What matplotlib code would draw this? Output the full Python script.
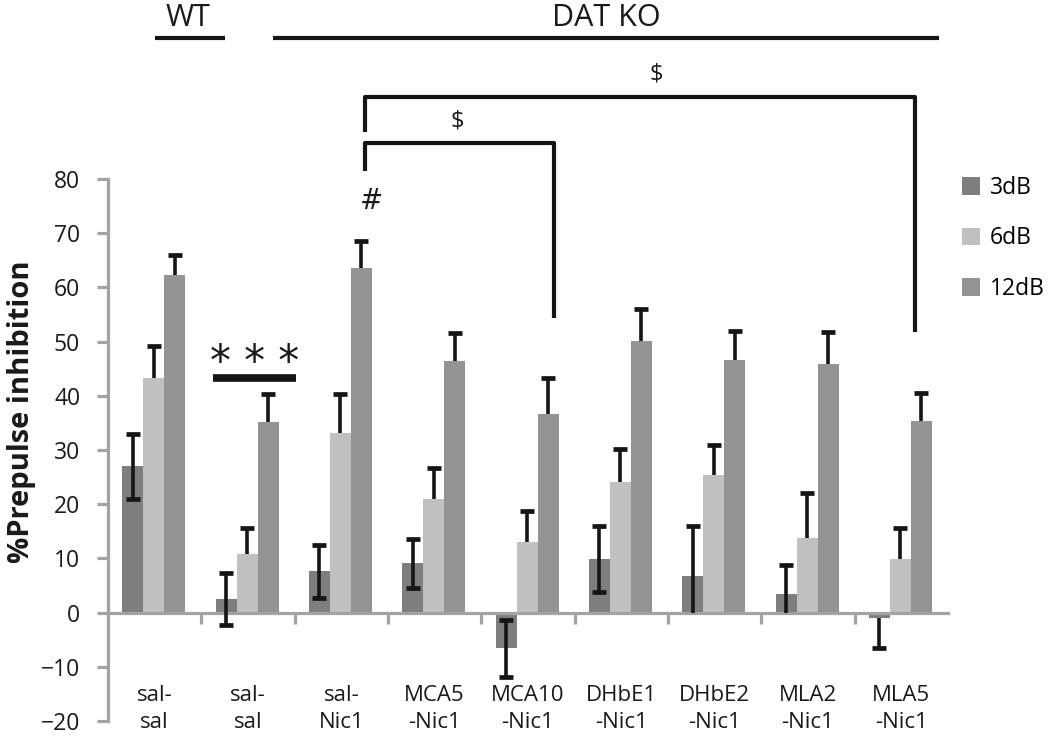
import matplotlib
matplotlib.use('Agg')
import matplotlib.pyplot as plt
import numpy as np

# ---- data ----
categories = ['sal-\nsal', 'sal-\nsal', 'sal-\nNic1', 'MCA5\n-Nic1', 'MCA10\n-Nic1',
              'DHbE1\n-Nic1', 'DHbE2\n-Nic1', 'MLA2\n-Nic1', 'MLA5\n-Nic1']
series = ['3dB', '6dB', '12dB']
v3 = [27.0, 2.5, 7.6, 9.1, -6.6, 9.9, 6.8, 3.4, -1.0]
e3_hi = [6.0, 4.8, 4.9, 4.5, 5.2, 6.1, 9.2, 5.3, 0.0]
e3_lo = [6.0, 4.8, 4.9, 4.5, 5.2, 6.1, 6.8, 3.4, 5.5]
v6 = [43.3, 10.8, 33.2, 21.0, 13.1, 24.1, 25.4, 13.8, 9.8]
e6 = [5.8, 4.8, 7.1, 5.7, 5.6, 6.1, 5.5, 8.3, 5.8]
v12 = [62.3, 35.1, 63.6, 46.4, 36.7, 50.2, 46.6, 45.9, 35.3]
e12 = [3.6, 5.2, 5.0, 5.2, 6.6, 5.8, 5.3, 5.9, 5.3]
yticks = [-20, -10, 0, 10, 20, 30, 40, 50, 60, 70, 80]

plt.rcParams['font.family'] = ['Open Sans', 'DejaVu Sans']

colors = ['#7e7e80', '#bfc0c2', '#929397']
axis_gray = '#a3a3a5'
ink = '#151515'
txt = '#1a1a1a'

fig = plt.figure(figsize=(10.5, 7.39), dpi=100)
ax = fig.add_axes([108/1050, 1-721/739, (948-108)/1050, (721-179)/739])

x = np.arange(len(categories))
w = 0.225
offs = [-0.235, -0.01, 0.215]
vals = [np.array(v3), np.array(v6), np.array(v12)]
lows = [np.array(e3_lo), np.zeros(9), np.zeros(9)]
highs = [np.array(e3_hi), np.array(e6), np.array(e12)]

handles = []
for i in range(3):
    b = ax.bar(x + offs[i], vals[i], w, color=colors[i], label=series[i], zorder=2)
    handles.append(b)

for i in range(3):
    xs = x + offs[i]
    lo = vals[i] - lows[i]
    hi = vals[i] + highs[i]
    ax.vlines(xs, lo, hi, color=ink, lw=2.6, zorder=3)
    # caps only at ends that stick out from the bar and not on the axis
    for xx, l, h, el, eh in zip(xs, lo, hi, lows[i], highs[i]):
        if eh > 0 and abs(h) > 0.3:
            ax.plot([xx], [h], marker='_', ms=10, mew=3.4, color=ink, zorder=3)
        if el > 0 and abs(l) > 0.3:
            ax.plot([xx], [l], marker='_', ms=10, mew=3.4, color=ink, zorder=3)

ax.set_xlim(-0.5, 8.5)
ax.set_ylim(-20, 80)
for s in ['top', 'right']:
    ax.spines[s].set_visible(False)
ax.spines['bottom'].set_position(('data', 0))
for s in ['left', 'bottom']:
    ax.spines[s].set_color(axis_gray)
    ax.spines[s].set_linewidth(2.3)
ax.spines['bottom'].set_zorder(2.5)

ax.set_yticks(yticks)
ax.tick_params(axis='y', length=8, width=2.3, color=axis_gray, pad=12, labelsize=16.5, labelcolor=txt)
ax.set_xticks(x)
ax.set_xticklabels(categories, linespacing=1.4)
ax.set_xticks(np.arange(0.5, 8.5, 1), minor=True)
ax.tick_params(axis='x', which='major', length=0, pad=52, labelsize=16, labelcolor=txt)
ax.tick_params(axis='x', which='minor', length=8, width=2.3, color=axis_gray, direction='out')

fig.text(22/1050, 1-412/739, '%Prepulse inhibition', rotation=90, fontsize=21,
         fontweight='bold', ha='center', va='center', color=txt)

# legend
ax.legend(handles=handles, loc='upper left', bbox_to_anchor=(962/1050, 1-176/739),
          bbox_transform=fig.transFigure, frameon=False, handlelength=0.8,
          handleheight=0.8, handletextpad=0.4, labelspacing=1.15, fontsize=16.5,
          borderpad=0, borderaxespad=0)

lk = dict(color=ink, clip_on=False, solid_capstyle='butt')
# group labels
ax.text(0.36, 108.2, 'WT', ha='center', va='baseline', fontsize=22, color=txt)
ax.plot([0.0, 0.75], [106.1, 106.1], lw=3, **lk)
ax.text(4.84, 108.2, 'DAT KO', ha='center', va='baseline', fontsize=22, color=txt)
ax.plot([1.27, 8.4], [106.1, 106.1], lw=3, **lk)

# significance brackets
ax.plot([2.25, 2.25, 8.15, 8.15], [88.7, 95.2, 95.2, 51.8], lw=3, **lk)
ax.text(5.37, 99.3, '$', ha='center', va='center', fontsize=17, color=txt)
ax.plot([2.25, 2.25, 4.275, 4.275], [81.5, 86.6, 86.6, 54.4], lw=3, **lk)
ax.text(3.24, 90.6, '$', ha='center', va='center', fontsize=17, color=txt)

# *** bar
ax.plot([0.62, 1.51], [43.3, 43.3], lw=5.5, **lk)
ax.text(1.07, 46.0, '* * *', ha='center', va='center', fontsize=30,
        family='DejaVu Sans', color=txt)
# hash
ax.text(2.32, 76.0, '#', ha='center', va='center', fontsize=20,
        family='DejaVu Sans', color=txt)

fig.savefig('out.png', dpi=100)
